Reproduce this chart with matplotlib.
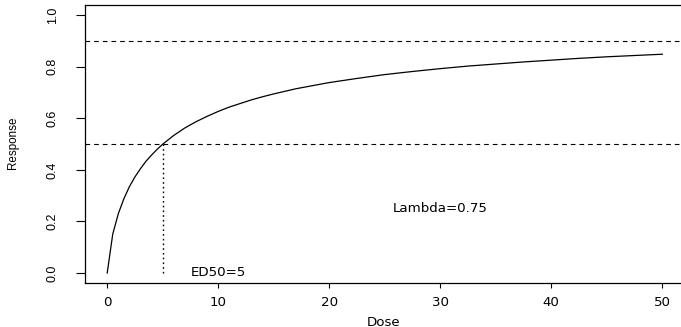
import matplotlib
matplotlib.use("Agg")
import matplotlib.pyplot as plt

# Dose-response curve (Emax-type, sigmoid with Hill exponent lambda)
dose = [0, 0.5, 1, 1.5, 2, 2.5, 3, 3.5, 4, 4.5, 5, 6, 7, 8, 9, 10, 11,
        12, 13, 14, 15, 16, 17, 18, 19, 20, 22.5, 25, 27.5, 30, 32.5,
        35, 37.5, 40, 42.5, 45, 47.5, 50]
response = [0.0, 0.151, 0.230, 0.288, 0.335, 0.373, 0.405, 0.434, 0.458,
            0.480, 0.500, 0.534, 0.563, 0.587, 0.608, 0.627, 0.644, 0.658,
            0.672, 0.684, 0.695, 0.705, 0.715, 0.723, 0.731, 0.739, 0.755,
            0.770, 0.782, 0.793, 0.803, 0.811, 0.819, 0.826, 0.833, 0.839,
            0.844, 0.849]

ref_levels = [0.5, 0.9]
ed50 = 5
ed50_response = 0.5
x_ticks = [0, 10, 20, 30, 40, 50]
y_ticks = [0.0, 0.2, 0.4, 0.6, 0.8, 1.0]
annotations = [(10, 0.0, "ED50=5"), (30, 0.25, "Lambda=0.75")]

W, H, DPI = 681, 327, 100
fig = plt.figure(figsize=(W / DPI, H / DPI), dpi=DPI)

left, right, bottom, top = 85, 684.5, 283.3, 5.0
ax = fig.add_axes([left / W, 1 - bottom / H, (right - left) / W, (bottom - top) / H])

lw = 0.8
ax.plot(dose, response, color="black", lw=0.9)
for lvl in ref_levels:
    ax.axhline(lvl, color="black", lw=lw, linestyle=(0, (4.2, 3.6)))
ax.plot([ed50, ed50], [0, ed50_response], color="black", lw=1.0,
        linestyle=(0, (1.2, 2.2)))

hfont = dict(family=["DejaVu Sans"], size=9.6)
vfont = dict(family=["Liberation Sans", "DejaVu Sans"], size=9.0)

for x, y, s in annotations:
    ax.text(x, y, s, ha="center", va="center", **hfont)

ax.set_xlim(-2, 52)
ax.set_ylim(-0.04, 1.04)
ax.set_xticks(x_ticks)
ax.set_xticklabels([str(t) for t in x_ticks], **hfont)
ax.set_yticks(y_ticks)
ax.set_yticklabels([f"{t:.1f}" for t in y_ticks], rotation=90, va="center", **vfont)

ax.tick_params(axis="x", direction="out", length=3.8, width=0.8, pad=5.5)
ax.tick_params(axis="y", direction="out", length=6.5, width=0.8, pad=12.5)

for sp in ax.spines.values():
    sp.set_linewidth(0.9)
    sp.set_color("black")

fig.text(383.5 / W, 1 - 322 / H, "Dose", ha="center", va="center", **hfont)
fig.text(13 / W, 1 - 143 / H, "Response", ha="center", va="center",
         rotation=90, family=["Liberation Sans", "DejaVu Sans"], size=8.4)

fig.savefig("out.png", dpi=DPI)
